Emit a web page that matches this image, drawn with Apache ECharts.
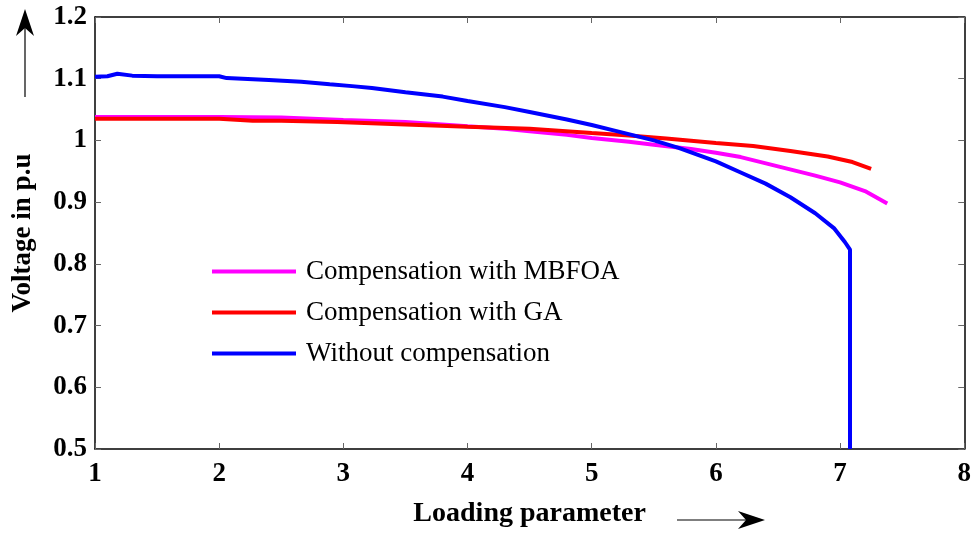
<!DOCTYPE html>
<html>
<head>
<meta charset="utf-8">
<script src="https://cdn.jsdelivr.net/npm/echarts@6/dist/echarts.min.js"></script>
<style>html,body{margin:0;padding:0;background:#fff}#c{width:974px;height:535px}</style>
</head>
<body>
<div id="c"></div>
<script>
var seriesNames = ['Compensation with MBFOA', 'Compensation with GA', 'Without compensation'];
var xTicks = [1, 2, 3, 4, 5, 6, 7, 8];
var yTicks = [0.5, 0.6, 0.7, 0.8, 0.9, 1.0, 1.1, 1.2];

var xMBFOA = [1.0, 1.5, 2.0, 2.5, 3.0, 3.5, 4.0, 4.3, 4.5, 4.8, 5.0, 5.3, 5.5, 5.8, 6.0, 6.2, 6.5, 6.8, 7.0, 7.2, 7.38];
var yMBFOA = [1.038, 1.038, 1.038, 1.037, 1.033, 1.030, 1.023, 1.019, 1.015, 1.009, 1.004, 0.998, 0.993, 0.986, 0.980, 0.973, 0.958, 0.943, 0.932, 0.918, 0.898];

var xGA = [1.0, 1.5, 2.0, 2.27, 2.5, 2.95, 3.5, 4.0, 4.5, 5.0, 5.3, 5.6, 6.0, 6.3, 6.6, 6.9, 7.1, 7.25];
var yGA = [1.035, 1.035, 1.035, 1.032, 1.032, 1.030, 1.026, 1.022, 1.019, 1.012, 1.008, 1.003, 0.996, 0.991, 0.983, 0.974, 0.965, 0.954];

var xNoComp = [1.0, 1.1, 1.18, 1.3, 1.5, 2.0, 2.06, 2.4, 2.66, 2.89, 3.07, 3.23, 3.5, 3.8, 4.0, 4.3, 4.5, 4.8, 5.0, 5.2, 5.5, 5.7, 6.0, 6.2, 6.4, 6.6, 6.8, 6.95, 7.04, 7.08, 7.08];
var yNoComp = [1.103, 1.104, 1.108, 1.105, 1.104, 1.104, 1.101, 1.098, 1.095, 1.091, 1.088, 1.085, 1.078, 1.071, 1.064, 1.054, 1.046, 1.034, 1.025, 1.015, 1.000, 0.988, 0.966, 0.948, 0.930, 0.908, 0.882, 0.858, 0.835, 0.823, 0.5];

function pairs(xs, ys) { return xs.map(function (x, i) { return [x, ys[i]]; }); }

var fontFam = '"Liberation Serif", "Times New Roman", serif';
var chart = echarts.init(document.getElementById('c'), null, {renderer: 'canvas'});

var mirrorTick = {show: true, inside: true, length: 6, lineStyle: {color: '#666', width: 1}};

chart.setOption({
  backgroundColor: '#fff',
  animation: false,
  grid: {left: 95, top: 17, right: 6, bottom: 86, containLabel: false},
  legend: {
    show: true,
    orient: 'vertical',
    left: 212,
    top: 258,
    padding: 0,
    itemWidth: 84,
    itemHeight: 14,
    itemGap: 14,
    icon: 'path://M0,5 L84,5 L84,9 L0,9 Z',
    textStyle: {fontFamily: fontFam, fontSize: 27, color: '#000', padding: [0, 0, 0, 5]},
    data: seriesNames
  },
  xAxis: [{
    type: 'value', min: 1, max: 8, interval: 1,
    name: 'Loading parameter', nameLocation: 'middle', nameGap: 51,
    nameTextStyle: {fontFamily: fontFam, fontSize: 28, fontWeight: 'bold', color: '#000'},
    axisLine: {show: true, onZero: false, lineStyle: {color: '#000', width: 1.5}},
    axisTick: mirrorTick,
    axisLabel: {fontFamily: fontFam, fontSize: 27, fontWeight: 'bold', color: '#000', margin: 12,
      formatter: function (v) { return xTicks.indexOf(v) >= 0 ? String(v) : ''; }},
    splitLine: {show: false}
  }, {
    type: 'value', min: 1, max: 8, interval: 1, position: 'top',
    axisLine: {show: true, onZero: false, lineStyle: {color: '#000', width: 1.5}},
    axisTick: mirrorTick, axisLabel: {show: false}, splitLine: {show: false}
  }],
  yAxis: [{
    type: 'value', min: 0.5, max: 1.2, interval: 0.1,
    name: 'Voltage in p.u', nameLocation: 'middle', nameGap: 58,
    nameTextStyle: {fontFamily: fontFam, fontSize: 27, fontWeight: 'bold', color: '#000'},
    axisLine: {show: true, onZero: false, lineStyle: {color: '#000', width: 1.5}},
    axisTick: mirrorTick,
    axisLabel: {fontFamily: fontFam, fontSize: 27, fontWeight: 'bold', color: '#000', margin: 8,
      formatter: function (v) {
        var r = Math.round(v * 10) / 10;
        return r === 1 ? '1' : r.toFixed(1);
      }},
    splitLine: {show: false}
  }, {
    type: 'value', min: 0.5, max: 1.2, interval: 0.1, position: 'right',
    axisLine: {show: true, onZero: false, lineStyle: {color: '#000', width: 1.5}},
    axisTick: mirrorTick, axisLabel: {show: false}, splitLine: {show: false}
  }],
  series: [{
    name: seriesNames[0], type: 'line', symbol: 'none', smooth: false,
    data: pairs(xMBFOA, yMBFOA),
    lineStyle: {color: '#ff00ff', width: 4}, itemStyle: {color: '#ff00ff'}, z: 3
  }, {
    name: seriesNames[1], type: 'line', symbol: 'none', smooth: false,
    data: pairs(xGA, yGA),
    lineStyle: {color: '#ff0000', width: 4}, itemStyle: {color: '#ff0000'}, z: 4
  }, {
    name: seriesNames[2], type: 'line', symbol: 'none', smooth: false,
    data: pairs(xNoComp, yNoComp),
    lineStyle: {color: '#0000ff', width: 4}, itemStyle: {color: '#0000ff'}, z: 5
  }],
  graphic: [
    {type: 'line', shape: {x1: 25, y1: 97, x2: 25, y2: 20}, style: {stroke: '#000', lineWidth: 1.2}},
    {type: 'polygon', shape: {points: [[25, 9], [16, 36], [25, 28], [34, 36]]}, style: {fill: '#000'}},
    {type: 'line', shape: {x1: 677, y1: 520, x2: 750, y2: 520}, style: {stroke: '#000', lineWidth: 1.2}},
    {type: 'polygon', shape: {points: [[765, 520], [738, 511], [746, 520], [738, 529]]}, style: {fill: '#000'}}
  ]
});
</script>
</body>
</html>
